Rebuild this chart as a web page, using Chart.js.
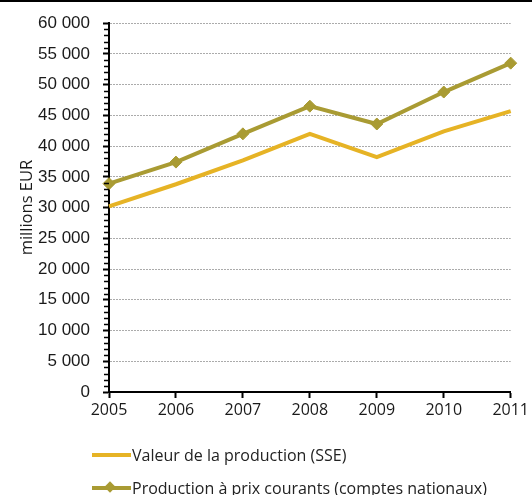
<!DOCTYPE html>
<html>
<head>
<meta charset="utf-8">
<script src="https://cdn.jsdelivr.net/npm/chart.js@4/dist/chart.umd.min.js"></script>
<style>
  html, body { margin: 0; padding: 0; background: #fff; }
  #wrap { position: relative; width: 532px; height: 495px; overflow: hidden; }
  #topbar { position: absolute; left: 0; top: 0; width: 532px; height: 2px; background: #000; }
  canvas { position: absolute; left: 0; top: 0; }
  .leg { position: absolute; left: 92px; font-family: "Open Sans", sans-serif; font-size: 16px; color: #222; white-space: nowrap; display: flex; align-items: center; }
  .sw { position: relative; width: 39px; height: 4px; margin-right: 1px; }
  .dia { position: absolute; left: 14px; top: -3px; width: 8px; height: 8px; transform: rotate(45deg); }
</style>
</head>
<body>
<div id="wrap">
  <canvas id="c" width="532" height="495"></canvas>
  <div id="topbar"></div>
  <div class="leg" id="leg1" style="top:444px;"><span class="sw" id="sw1"></span><span id="lt1"></span></div>
  <div class="leg" id="leg2" style="top:477px;"><span class="sw" id="sw2"><span class="dia" id="dia2"></span></span><span id="lt2"></span></div>
</div>
<script>
const years = ["2005", "2006", "2007", "2008", "2009", "2010", "2011"];
const seriesNames = ["Valeur de la production (SSE)", "Production à prix courants (comptes nationaux)"];
const valeurSSE = [30200, 33800, 37700, 42000, 38200, 42400, 45700];
const prodCourants = [33900, 37400, 42000, 46500, 43600, 48800, 53500];
const yTitle = "millions EUR";
const colors = ["#E6B325", "#A99B33"];

document.getElementById('lt1').textContent = seriesNames[0];
document.getElementById('lt2').textContent = seriesNames[1];
document.getElementById('sw1').style.background = colors[0];
document.getElementById('sw2').style.background = colors[1];
document.getElementById('dia2').style.background = colors[1];

const fmt = v => String(v).replace(/\B(?=(\d{3})+(?!\d))/g, ' ');

const minorTicks = {
  id: 'minorTicks',
  afterDraw(chart) {
    const y = chart.scales.y;
    const ctx = chart.ctx;
    ctx.save();
    ctx.strokeStyle = '#000';
    ctx.lineWidth = 1.5;
    for (let v = 0; v <= 60000; v += 1000) {
      if (v % 5000 === 0) continue;
      const py = Math.round(y.getPixelForValue(v)) + 0.5;
      ctx.beginPath();
      ctx.moveTo(y.right - 5, py);
      ctx.lineTo(y.right, py);
      ctx.stroke();
    }
    ctx.restore();
  }
};

new Chart(document.getElementById('c'), {
  type: 'line',
  data: {
    labels: years,
    datasets: [
      { label: seriesNames[0], data: valeurSSE, borderColor: colors[0], backgroundColor: colors[0],
        borderWidth: 4, pointRadius: 0, tension: 0, clip: false },
      { label: seriesNames[1], data: prodCourants, borderColor: colors[1], backgroundColor: colors[1],
        borderWidth: 4, pointStyle: 'rectRot', pointRadius: 6, pointBorderWidth: 1, tension: 0, clip: false }
    ]
  },
  options: {
    responsive: false,
    animation: false,
    layout: { padding: { top: 23, right: 21, bottom: 73, left: 0 } },
    plugins: { legend: { display: false }, tooltip: { enabled: false } },
    scales: {
      x: {
        offset: false,
        afterFit(s) { s.height = 30; },
        grid: { drawOnChartArea: false, drawTicks: true, tickLength: 6, tickColor: '#000', tickWidth: 2 },
        border: { display: true, color: '#000', width: 2 },
        ticks: { maxRotation: 0, autoSkip: false, padding: 3, color: '#1a1a1a',
          font: { family: '"Open Sans", sans-serif', size: 16 } }
      },
      y: {
        min: 0, max: 60000,
        afterFit(s) { s.width = 109; },
        grid: { color: '#ababab', lineWidth: 1, drawTicks: true, tickLength: 6, tickColor: '#000', tickWidth: 2, tickBorderDash: [] },
        border: { display: true, color: '#000', width: 2, dash: [2, 1] },
        ticks: { stepSize: 5000, padding: 13, color: '#1a1a1a', callback: v => fmt(v),
          font: { family: '"Liberation Sans", Arial, sans-serif', size: 17 } },
        title: { display: true, text: yTitle, color: '#1a1a1a', padding: { top: 17, bottom: 0 },
          font: { family: '"Open Sans", sans-serif', size: 16.5 } }
      }
    }
  },
  plugins: [minorTicks]
});
</script>
</body>
</html>
